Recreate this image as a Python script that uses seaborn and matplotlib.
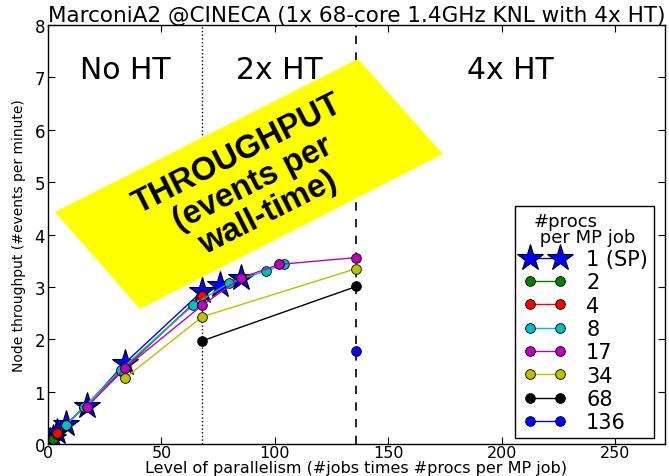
import matplotlib
matplotlib.use("Agg")
import matplotlib.pyplot as plt
import matplotlib.patches as mpatches
from matplotlib.lines import Line2D
from matplotlib.legend_handler import HandlerLine2D
import numpy as np
import pandas as pd
import seaborn as sns

# data: level of parallelism (x) vs node throughput (#events per minute)
sp_x = [1, 2, 4, 8, 17, 34, 68, 76, 85]
sp_y = [0.05, 0.12, 0.23, 0.38, 0.73, 1.55, 2.92, 3.04, 3.17]

p2_x = [2, 4, 8, 16, 34, 68]
p2_y = [0.1, 0.2, 0.37, 0.71, 1.45, 2.84]

p4_x = [4, 8, 16, 32, 68]
p4_y = [0.21, 0.37, 0.71, 1.40, 2.83]

p8_x = [8, 16, 32, 64, 80, 96, 104]
p8_y = [0.37, 0.70, 1.42, 2.65, 3.08, 3.30, 3.43]

p17_x = [17, 34, 68, 85, 102, 136]
p17_y = [0.70, 1.45, 2.65, 3.17, 3.43, 3.56]

p34_x = [34, 68, 136]
p34_y = [1.26, 2.43, 3.35]

p68_x = [68, 136]
p68_y = [1.97, 3.01]

p136_x = [136]
p136_y = [1.78]

series = [
    ("2", p2_x, p2_y, (0, 0.5, 0)),
    ("4", p4_x, p4_y, (1, 0, 0)),
    ("8", p8_x, p8_y, (0, 0.75, 0.75)),
    ("17", p17_x, p17_y, (0.75, 0, 0.75)),
    ("34", p34_x, p34_y, (0.75, 0.75, 0)),
    ("68", p68_x, p68_y, (0, 0, 0)),
    ("136", p136_x, p136_y, (0, 0, 1)),
]

sns.set_style("ticks")
plt.rcParams['font.family'] = ['DejaVu Sans']
plt.rcParams['text.color'] = 'k'
plt.rcParams['axes.labelcolor'] = 'k'
plt.rcParams['xtick.color'] = 'k'
plt.rcParams['ytick.color'] = 'k'

fig = plt.figure(figsize=(6.69, 4.77), dpi=100)
ax = fig.add_axes([0.0717, 0.067, 0.9223, 0.8785])

sns.lineplot(x=sp_x, y=sp_y, ax=ax, color="b", marker="*", markersize=20,
             markeredgecolor="k", markeredgewidth=0.8, linewidth=1,
             label="1 (SP)", sort=False)
for lab, xs, ys, col in series:
    sns.lineplot(x=xs, y=ys, ax=ax, color=col, marker="o", markersize=7,
                 markeredgecolor="k", markeredgewidth=0.6, linewidth=1,
                 label=lab, sort=False)

ax.axvline(68, color="k", linestyle=":", linewidth=1, zorder=0)
ax.axvline(136, color="k", linestyle="--", linewidth=1.2, zorder=0,
           dashes=(5, 5))

ax.text(34, 7.15, "No HT", fontsize=21.5, ha="center", va="center")
ax.text(102, 7.15, "2x HT", fontsize=21.5, ha="center", va="center")
ax.text(204, 7.15, "4x HT", fontsize=21.5, ha="center", va="center")

ax.set_xlim(0, 272)
ax.set_ylim(0, 8)
ax.set_xticks([0, 50, 100, 150, 200, 250])
ax.set_yticks(range(0, 9))
ax.tick_params(direction="in", top=True, right=True, labelsize=12, length=5)
ax.tick_params(axis="x", pad=1, labelsize=11.5)
ax.tick_params(axis="y", pad=2)
for s in ax.spines.values():
    s.set_linewidth(1)
    s.set_color("k")

ax.set_title("MarconiA2 @CINECA (1x 68-core 1.4GHz KNL with 4x HT)",
             fontsize=15.5, pad=3)
ax.set_xlabel("Level of parallelism (#jobs times #procs per MP job)",
              fontsize=11.5, labelpad=0)
ax.set_ylabel("Node throughput (#events per minute)", fontsize=10, labelpad=6)

leg = ax.legend(loc="lower right", bbox_to_anchor=(0.982, 0.014),
                title="#procs\n per MP job", fontsize=15,
                title_fontsize=13, numpoints=2, frameon=True, fancybox=False,
                edgecolor="k", framealpha=1, handlelength=2.34,
                labelspacing=0.16, borderaxespad=0, handletextpad=0.8,
                borderpad=0.28,
                handler_map={Line2D: HandlerLine2D(marker_pad=0.45)})
leg.get_frame().set_linewidth(1)
leg.get_title().set_linespacing(0.85)

# yellow skewed banner (figure inches)
banner = mpatches.Polygon([(0.55, 2.64), (3.58, 4.17), (4.43, 3.22), (1.40, 1.67)],
                          closed=True, transform=fig.dpi_scale_trans,
                          facecolor="yellow", edgecolor="none", zorder=5)
fig.patches.append(banner)
fig.text(2.53, 2.93, "THROUGHPUT\n(events per\nwall-time)",
         transform=fig.dpi_scale_trans, rotation=26.8, ha="center",
         va="center", multialignment="center", fontsize=23.5,
         fontweight="bold", family=["Liberation Sans", "DejaVu Sans"],
         linespacing=1.1, zorder=6, color="k")

fig.savefig("out.png", dpi=100)
